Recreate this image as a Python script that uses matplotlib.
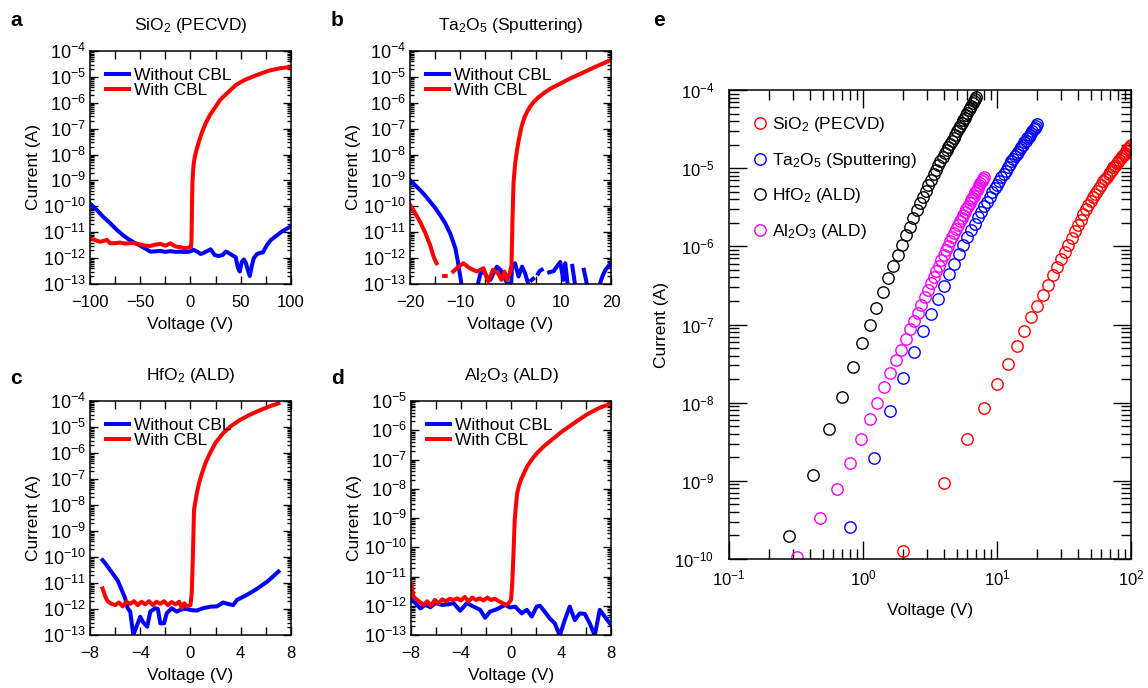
import numpy as np
import matplotlib
matplotlib.use("Agg")
import matplotlib.pyplot as plt
from matplotlib.ticker import LogLocator, LogFormatterSciNotation, MultipleLocator, NullFormatter

plt.rcParams['font.family'] = ['Liberation Sans', 'DejaVu Sans']
plt.rcParams['mathtext.fontset'] = 'custom'
plt.rcParams['mathtext.rm'] = 'Liberation Sans'
plt.rcParams['mathtext.it'] = 'Liberation Sans:italic'
plt.rcParams['mathtext.bf'] = 'Liberation Sans:bold'
plt.rcParams['mathtext.default'] = 'regular'

nan = np.nan
BLUE = '#0000ff'
RED = '#ff0000'
MAGENTA = '#ff00ff'

# ---- panel a : SiO2 (PECVD), voltage (V) and log10(current / A)
sio2_v_wo = [-100, -93, -87, -80, -73, -67, -62, -56, -50, -45,
             -40, -35, -30, -25, -20, -15, -10, -5, 0, 3,
             7, 10, 13, 17, 20, 24, 28, 32, 35, 38,
             42, 45, 47, 49, 51, 53, 55, 57, 59, 61,
             63, 66, 69, 72, 76, 80, 85, 90, 95, 100]
sio2_logi_wo = [-9.89, -10.15, -10.40, -10.65, -10.92, -11.12, -11.26, -11.40, -11.52, -11.63,
                -11.75, -11.74, -11.72, -11.76, -11.73, -11.76, -11.75, -11.77, -11.74, -11.68,
                -11.76, -11.84, -11.80, -11.72, -11.66, -11.88, -11.92, -11.88, -11.75, -11.80,
                -11.90, -11.97, -12.35, -12.52, -12.15, -12.05, -12.18, -12.45, -12.69, -12.30,
                -12.00, -11.85, -11.80, -11.78, -11.50, -11.30, -11.15, -11.00, -10.88, -10.78]
sio2_v_w = [-100, -95, -90, -86, -83, -80, -75, -70, -65, -60,
            -55, -50, -45, -40, -35, -30, -25, -20, -15, -10,
            -5, -1, 0.5, 1, 1.5, 2, 2.8, 3.4, 4, 5, 6, 8,
            11, 15, 19.4, 25, 29.4, 35, 40, 45, 50, 55,
            62, 70, 78, 85, 90, 95, 100]
sio2_logi_w = [-11.24, -11.30, -11.37, -11.33, -11.30, -11.43, -11.42, -11.40, -11.44, -11.42,
               -11.43, -11.47, -11.52, -11.53, -11.48, -11.45, -11.52, -11.43, -11.55, -11.58,
               -11.62, -11.58, -11.56, -11.3, -9.9, -9.0, -8.5, -8.3, -8.15, -7.97, -7.82, -7.55,
               -7.18, -6.80, -6.47, -6.15, -5.89, -5.68, -5.50, -5.32, -5.20, -5.10,
               -4.99, -4.87, -4.76, -4.70, -4.66, -4.64, -4.63]

# ---- panel b : Ta2O5 (Sputtering), nan = no positive current
ta2o5_v_wo = [-20, -19, -18, -17, -16, -15, -14, -13, -12, -11, -10.5, -10, -9.7, -9.0,
              -6.6, -6.0, -5.3, -4.6, -4.0, -3.3, -2.7, -2.0, -1.4, -0.7, -0.3, -0.2,
              0.1, 0.3, 0.9, 1.6, 2.3, 2.9, 3.6, 3.8,
              4.2, 4.5, 4.7,
              5.5, 5.8, 6.2, 6.4,
              7.7, 8.6, 9.2, 9.9, 10.5, 10.9, 11.3, 11.5,
              12.3, 12.9, 13.0,
              14.6, 15.3, 15.5,
              17.6, 18.3, 18.9, 20]
ta2o5_logi_wo = [-8.99, -9.18, -9.37, -9.58, -9.82, -10.06, -10.34, -10.65, -11.05, -11.6, -12.1, -12.7, -13.1, nan,
                 -13.1, -12.6, -12.52, -12.75, -12.84, -12.55, -12.33, -12.45, -12.71, -12.95, -13.1, nan,
                 -13.1, -12.33, -12.2, -12.71, -12.33, -12.58, -13.05, nan,
                 -12.85, -12.8, nan,
                 -12.6, -12.5, -12.45, nan,
                 -12.55, -12.5, -12.33, -12.15, -12.84, -12.2, -12.9, nan,
                 -12.3, -13.1, nan,
                 -12.45, -13.1, nan,
                 -13.1, -12.7, -12.45, -12.2]
ta2o5_v_w = [-20, -19, -18, -17, -16, -15.3, -14.7, -14.5,
             -13.2, -12.9, -12.8,
             -11.4, -10.5, -9.4, -8.1, -6.7, -5.4, -4.4, -3.5, -2.5, -1.8,
             -1.2, -0.7, -0.2, 0.2, 0.4, 0.6, 0.9, 1.3, 1.7, 2.2, 2.8, 3.3, 3.9,
             4.6, 5.5, 6.6, 8.0, 10, 12, 14.6, 17, 20]
ta2o5_logi_w = [-9.95, -10.25, -10.6, -11.0, -11.5, -11.95, -12.2, nan,
                -12.69, -12.69, nan,
                -12.52, -12.35, -12.2, -12.39, -12.52, -12.39, -12.9, -12.45, -12.58, -12.84,
                -12.52, -12.84, -12.6, -12.3, -10.5, -9.1, -8.4, -7.82, -7.38, -6.92, -6.55, -6.35, -6.15,
                -5.97, -5.80, -5.63, -5.45, -5.25, -5.05, -4.82, -4.6, -4.35]

# ---- panel c : HfO2 (ALD)
hfo2_v_wo = [-7, -6.7, -6.4, -6.1, -5.8, -5.5, -5.2, -5.0, -4.8, -4.55,
             -4.3, -4.0, -3.8, -3.45, -3.2, -2.8, -2.6, -2.4, -2.1, -1.9,
             -1.5, -1.1, -0.7, -0.3, 0.0, 0.5, 1.0, 1.6, 2.1, 2.6,
             3.1, 3.4, 3.7, 4.2, 4.8, 5.3, 5.8, 6.1, 6.5, 7.0]
hfo2_logi_wo = [-10.12, -10.3, -10.5, -10.7, -10.9, -11.24, -11.59, -11.97, -12.1, -13.0,
                -12.68, -12.3, -12.49, -12.68, -12.1, -11.97, -12.0, -12.55, -12.55, -12.17,
                -11.97, -12.1, -12.01, -12.0, -12.04, -12.06, -11.97, -11.91, -11.9, -11.75,
                -11.82, -11.85, -11.65, -11.53, -11.37, -11.22, -11.05, -10.95, -10.78, -10.56]
hfo2_v_w = [-7, -6.8, -6.6, -6.3, -6.0, -5.7, -5.4, -5.1, -4.8, -4.5,
            -4.2, -3.9, -3.6, -3.3, -3.0, -2.7, -2.4, -2.1, -1.8, -1.5,
            -1.2, -0.9, -0.7, -0.5, -0.3, 0.0, 0.1, 0.2, 0.28, 0.5,
            0.7, 0.9, 1.2, 1.55, 2.0, 2.6, 3.2, 3.94, 4.6, 5.27, 6.0, 6.5, 7.0]
hfo2_logi_w = [-11.21, -11.5, -11.7, -11.8, -11.85, -11.75, -11.9, -11.72, -11.8, -11.7,
               -11.85, -11.72, -11.82, -11.7, -11.85, -11.72, -11.8, -11.7, -11.85, -11.73,
               -11.82, -11.72, -11.95, -11.78, -11.9, -11.85, -11.4, -9.8, -8.19, -7.55,
               -7.12, -6.80, -6.38, -6.01, -5.60, -5.24, -4.97, -4.73, -4.56, -4.41, -4.26, -4.17, -4.09]

# ---- panel d : Al2O3 (ALD)
al2o3_v_wo = [-8, -7.65, -7.25, -6.85, -6.45, -6.05, -5.5, -5.0, -4.6, -4.06,
              -3.53, -3.0, -2.47, -2.07, -1.67, -1.14, -0.47, -0.07, 0.33, 0.86,
              1.27, 1.66, 2.05, 2.32, 2.6, 3.1, 3.5, 3.9, 4.3, 4.7,
              5.1, 5.5, 5.9, 6.3, 6.7, 7.1, 7.5, 8]
al2o3_logi_wo = [-11.8, -11.91, -12.09, -11.97, -12.05, -11.91, -11.97, -11.95, -11.91, -12.17,
                 -11.91, -12.03, -12.14, -12.41, -12.2, -12.12, -11.97, -12.06, -12.03, -12.26,
                 -12.14, -12.37, -12.03, -12.0, -12.15, -12.43, -12.6, -13.02, -12.49, -12.03,
                 -12.49, -12.26, -12.28, -12.6, -13.02, -12.14, -12.37, -12.66]
al2o3_v_w = [-8, -7.8, -7.5, -7.2, -7.0, -6.7, -6.4, -6.1, -5.8, -5.5,
             -5.2, -4.9, -4.6, -4.3, -4.0, -3.7, -3.4, -3.1, -2.8, -2.5,
             -2.2, -1.9, -1.6, -1.3, -1.0, -0.7, -0.4, -0.2, 0.0, 0.1,
             0.2, 0.3, 0.4, 0.5, 0.65, 0.8, 1.0, 1.3, 1.7, 2.1, 2.7, 3.4,
             4.0, 4.7, 5.3, 6.0, 6.5, 7.1, 8]
al2o3_logi_w = [-11.23, -11.69, -11.8, -11.9, -11.97, -11.85, -12.0, -11.8, -11.92, -11.78,
                -11.85, -11.76, -11.8, -11.75, -11.82, -11.7, -11.85, -11.72, -11.8, -11.75,
                -11.82, -11.72, -11.8, -11.76, -11.84, -11.9, -11.97, -11.92, -11.8, -11.23,
                -10.2, -9.06, -8.55, -8.14, -7.88, -7.69, -7.50, -7.23, -6.98, -6.77, -6.52, -6.28,
                -6.07, -5.86, -5.68, -5.48, -5.36, -5.23, -5.09]

# ---- panel e : forward current with CBL, log-log
e_sio2_v = [2, 4, 6, 8, 10, 12, 14, 16, 18, 20, 22, 24, 26, 28, 30, 32, 34,
            36, 38, 40, 42, 44, 46, 48, 50, 52, 54, 56, 58, 60, 62, 64, 66,
            68, 70, 72, 74, 76, 78, 80, 82, 84, 86, 88, 90, 92, 94, 96, 98, 100]
e_sio2_logi = [-9.90, -9.03, -8.47, -8.07, -7.76, -7.50, -7.28, -7.08, -6.91, -6.76, -6.62, -6.49, -6.37, -6.26, -6.16, -6.07, -5.98,
               -5.89, -5.81, -5.73, -5.66, -5.59, -5.52, -5.47, -5.42, -5.37, -5.33, -5.29, -5.25, -5.21, -5.17, -5.14, -5.11,
               -5.08, -5.05, -5.02, -4.99, -4.97, -4.94, -4.92, -4.89, -4.87, -4.85, -4.83, -4.80, -4.78, -4.76, -4.74, -4.72, -4.70]
e_ta2o5_v = [0.8, 1.2, 1.6, 2.0, 2.4, 2.8, 3.2, 3.6, 4.0, 4.4, 4.8, 5.2, 5.6, 6.0, 6.4,
             6.8, 7.2, 7.6, 8.0, 8.4, 8.8, 9.2, 9.6, 10.0, 10.4, 10.8, 11.2, 11.6, 12.0, 12.4, 12.8,
             13.2, 13.6, 14.0, 14.4, 14.8, 15.2, 15.6, 16.0, 16.4, 16.8, 17.2, 17.6, 18.0, 18.4, 18.8,
             19.2, 19.6, 20.0]
e_ta2o5_logi = [-9.59, -8.71, -8.11, -7.68, -7.35, -7.08, -6.86, -6.67, -6.51, -6.36, -6.22, -6.10, -5.98, -5.88, -5.79,
                -5.71, -5.63, -5.56, -5.49, -5.43, -5.37, -5.31, -5.26, -5.21, -5.16, -5.11, -5.07, -5.03, -4.99, -4.95, -4.91,
                -4.88, -4.85, -4.82, -4.79, -4.76, -4.73, -4.70, -4.67, -4.65, -4.62, -4.60, -4.57, -4.55, -4.53, -4.50,
                -4.48, -4.46, -4.44]
e_hfo2_v = [0.28, 0.42, 0.56, 0.70, 0.84, 0.98, 1.12, 1.26, 1.40, 1.54, 1.68, 1.82, 1.96,
            2.10, 2.24, 2.38, 2.52, 2.66, 2.80, 2.94, 3.08, 3.22, 3.36, 3.50, 3.64, 3.78,
            3.92, 4.06, 4.20, 4.34, 4.48, 4.62, 4.76, 4.90, 5.04, 5.18, 5.32, 5.46, 5.60,
            5.74, 5.88, 6.02, 6.16, 6.30, 6.44, 6.58, 6.72, 6.86, 7.00]
e_hfo2_logi = [-9.71, -8.93, -8.34, -7.93, -7.55, -7.24, -7.01, -6.79, -6.59, -6.41, -6.25, -6.11, -5.98,
               -5.86, -5.75, -5.64, -5.54, -5.45, -5.37, -5.29, -5.22, -5.15, -5.08, -5.02, -4.96, -4.91,
               -4.86, -4.81, -4.77, -4.73, -4.69, -4.65, -4.61, -4.57, -4.53, -4.49, -4.46, -4.42, -4.39,
               -4.36, -4.32, -4.29, -4.26, -4.23, -4.20, -4.17, -4.14, -4.11, -4.09]
e_al2o3_v = [0.32, 0.48, 0.64, 0.80, 0.96, 1.12, 1.28, 1.44, 1.60, 1.76, 1.92, 2.08, 2.24, 2.40, 2.56, 2.72,
             2.88, 3.04, 3.20, 3.36, 3.52, 3.68, 3.84, 4.00, 4.16, 4.32, 4.48, 4.64, 4.80, 4.96, 5.12, 5.28,
             5.44, 5.60, 5.76, 5.92, 6.08, 6.24, 6.40, 6.56, 6.72, 6.88, 7.04, 7.20, 7.36, 7.52, 7.68, 7.84, 8.00]
e_al2o3_logi = [-9.98, -9.47, -9.10, -8.77, -8.46, -8.21, -8.00, -7.80, -7.62, -7.46, -7.32, -7.18, -7.06, -6.95, -6.85, -6.75,
                -6.65, -6.56, -6.47, -6.39, -6.32, -6.25, -6.18, -6.11, -6.05, -5.99, -5.93, -5.88, -5.83, -5.78, -5.73, -5.68,
                -5.64, -5.60, -5.56, -5.52, -5.48, -5.44, -5.41, -5.38, -5.35, -5.31, -5.28, -5.25, -5.22, -5.19, -5.16, -5.14, -5.11]


def cur(logi):
    return 10.0 ** np.asarray(logi, dtype=float)


fig = plt.figure(figsize=(11.48, 6.88), dpi=100)

W, H = 1148.0, 688.0
def box(l, t, r, b):
    return [l / W, 1 - b / H, (r - l) / W, (b - t) / H]


def line_panel(rect, title, v_wo, i_wo, v_w, i_w, xlim, xmaj, xmin, ylim):
    ax = fig.add_axes(rect)
    ax.plot(v_wo, cur(i_wo), color=BLUE, lw=2.9, label='Without CBL')
    ax.plot(v_w, cur(i_w), color=RED, lw=2.9, label='With CBL')
    ax.set_yscale('log')
    ax.set_xlim(*xlim)
    ax.set_ylim(*ylim)
    ax.yaxis.set_major_locator(LogLocator(base=10, numticks=30))
    ax.yaxis.set_major_formatter(LogFormatterSciNotation())
    ax.yaxis.set_minor_locator(LogLocator(base=10, subs=np.arange(2, 10), numticks=30))
    ax.yaxis.set_minor_formatter(NullFormatter())
    ax.xaxis.set_major_locator(MultipleLocator(xmaj))
    ax.xaxis.set_minor_locator(MultipleLocator(xmin))
    ax.tick_params(which='both', direction='in', top=True, right=True, labelsize=12, width=1.0)
    ax.tick_params(axis='y', which='major', length=6, pad=3, labelsize=13)
    ax.tick_params(axis='y', which='minor', length=3)
    ax.tick_params(axis='x', which='both', length=6, pad=8)
    for s in ax.spines.values():
        s.set_linewidth(1.1)
    ax.set_xlabel('Voltage (V)', fontsize=12.5, labelpad=5)
    ax.set_ylabel('Current (A)', fontsize=12.5, labelpad=1)
    ax.set_title(title, fontsize=12.5, pad=15)
    ax.legend(loc='upper left', bbox_to_anchor=(0.0, 1.0), frameon=False, fontsize=12.5,
              handlelength=1.3, handletextpad=0.3, labelspacing=0.0, borderpad=0.85,
              borderaxespad=0.1)
    return ax


line_panel(box(90, 51, 291, 284), r'SiO$_2$ (PECVD)', sio2_v_wo, sio2_logi_wo, sio2_v_w, sio2_logi_w,
           (-100, 100), 50, 25, (1e-13, 1e-4))
line_panel(box(410, 51, 611, 284), r'Ta$_2$O$_5$ (Sputtering)', ta2o5_v_wo, ta2o5_logi_wo, ta2o5_v_w, ta2o5_logi_w,
           (-20, 20), 10, 5, (1e-13, 1e-4))
line_panel(box(90, 401, 291, 635), r'HfO$_2$ (ALD)', hfo2_v_wo, hfo2_logi_wo, hfo2_v_w, hfo2_logi_w,
           (-8, 8), 4, 2, (1e-13, 1e-4))
line_panel(box(411, 401, 611, 635), r'Al$_2$O$_3$ (ALD)', al2o3_v_wo, al2o3_logi_wo, al2o3_v_w, al2o3_logi_w,
           (-8, 8), 4, 2, (1e-13, 1e-5))

# ---- panel e
ax = fig.add_axes(box(729, 90, 1131, 559))
mk = dict(ls='none', marker='o', ms=8.2, mfc='none', mew=1.0)
ax.plot(e_sio2_v, cur(e_sio2_logi), color=RED, label=r'SiO$_2$ (PECVD)', **mk)
ax.plot(e_ta2o5_v, cur(e_ta2o5_logi), color=BLUE, label=r'Ta$_2$O$_5$ (Sputtering)', **mk)
ax.plot(e_hfo2_v, cur(e_hfo2_logi), color='black', label=r'HfO$_2$ (ALD)', **mk)
ax.plot(e_al2o3_v, cur(e_al2o3_logi), color=MAGENTA, label=r'Al$_2$O$_3$ (ALD)', **mk)
ax.set_xscale('log')
ax.set_yscale('log')
ax.set_xlim(0.1, 100)
ax.set_ylim(1e-10, 1e-4)
for axis in (ax.xaxis, ax.yaxis):
    axis.set_major_locator(LogLocator(base=10, numticks=30))
    axis.set_major_formatter(LogFormatterSciNotation())
    axis.set_minor_locator(LogLocator(base=10, subs=np.arange(2, 10), numticks=30))
    axis.set_minor_formatter(NullFormatter())
ax.tick_params(which='both', direction='in', top=True, right=True, labelsize=12, width=1.0)
ax.tick_params(which='major', length=13)
ax.tick_params(which='minor', length=7)
ax.tick_params(axis='x', which='major', pad=7)
ax.tick_params(axis='y', which='major', pad=10.5)
for s in ax.spines.values():
    s.set_linewidth(1.1)
ax.set_xlabel('Voltage (V)', fontsize=12.5, labelpad=10)
ax.set_ylabel('Current (A)', fontsize=12.5, labelpad=4)
ax.legend(loc='upper left', bbox_to_anchor=(0.0, 1.0), frameon=False, fontsize=12.5,
          numpoints=1, handlelength=0.7, handletextpad=0.35, labelspacing=0.95,
          borderpad=1.15, borderaxespad=0.3)

# panel letters
for letter, x, y in [('a', 10, 20), ('b', 331, 20), ('c', 10, 378), ('d', 331, 378), ('e', 653, 20)]:
    fig.text(x / W, 1 - y / H, letter, fontsize=15, fontweight='bold', ha='left', va='center')

fig.savefig('out.png', dpi=100)
